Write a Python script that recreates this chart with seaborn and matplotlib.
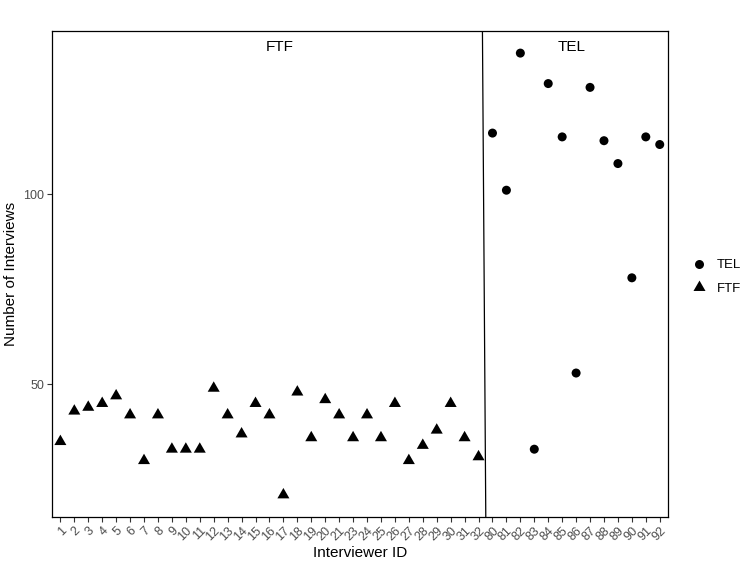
import matplotlib
matplotlib.use("Agg")
import matplotlib.pyplot as plt
import numpy as np
import pandas as pd
import seaborn as sns

# interviewer IDs and number of interviews, per mode
ftf_ids = [str(i) for i in range(1, 22)] + [str(i) for i in range(23, 33)]
ftf_counts = [35, 43, 44, 45, 47, 42, 30, 42, 33, 33, 33, 49, 42, 37, 45, 42, 21,
              48, 36, 46, 42, 36, 42, 36, 45, 30, 34, 38, 45, 36, 31]
tel_ids = [str(i) for i in range(80, 93)]
tel_counts = [116, 101, 137, 33, 129, 115, 53, 128, 114, 108, 78, 115, 113]

mode_order = ["TEL", "FTF"]
# equilateral triangle, centred on its centroid (like R's pch 17)
triangle = [(0, 1), (-0.866, -0.5), (0.866, -0.5)]

df = pd.DataFrame({
    "id": ftf_ids + tel_ids,
    "n": ftf_counts + tel_counts,
    "mode": ["FTF"] * len(ftf_ids) + ["TEL"] * len(tel_ids),
})

sns.set_theme(style="white")
plt.rcParams["font.family"] = ["Liberation Sans", "DejaVu Sans"]
plt.rcParams["text.color"] = "black"
plt.rcParams["axes.labelcolor"] = "black"

fig = plt.figure(figsize=(7.55, 5.67), dpi=100)
ax = fig.add_axes([0.0689, 0.0882, 0.816, 0.8571])

sns.scatterplot(data=df, x="id", y="n", hue="mode", style="mode", size="mode",
                hue_order=mode_order, style_order=mode_order, size_order=mode_order,
                palette={"TEL": "black", "FTF": "black"},
                markers={"TEL": "o", "FTF": triangle},
                sizes={"TEL": 42, "FTF": 100},
                linewidth=0, ax=ax)

# y range with ggplot-style 5% expansion
lo, hi = min(df["n"]), max(df["n"])
pad = (hi - lo) * 0.05
ax.set_ylim(lo - pad, hi + pad)
ax.set_xlim(-0.6, len(df) - 1 + 0.6)

# divider between the two modes
split_top, split_bottom = 30.28, 30.52
ax.plot([split_top, split_bottom], [hi + pad, lo - pad], color="black", lw=0.9, zorder=1)

ax.text(0.37, 0.968, "FTF", transform=ax.transAxes, ha="center", va="center", fontsize=11)
ax.text(0.844, 0.968, "TEL", transform=ax.transAxes, ha="center", va="center", fontsize=11)

ax.set_yticks([50, 100])
ax.set_xlabel("Interviewer ID", fontsize=11, labelpad=2)
ax.set_ylabel("Number of Interviews", fontsize=11, labelpad=4)
ax.tick_params(axis="both", colors="#4d4d4d", labelsize=9, length=3.5, width=0.8,
               direction="out", left=True, bottom=True, pad=2)
ax.tick_params(axis="both", color="#333333")
for lab in ax.get_xticklabels():
    lab.set_rotation(45)
    lab.set_ha("right")
    lab.set_rotation_mode("anchor")
for sp in ax.spines.values():
    sp.set_color("black")
    sp.set_linewidth(0.9)

sns.move_legend(ax, "center left", bbox_to_anchor=(1.01, 0.494), title=None,
                frameon=False, fontsize=9.5, handletextpad=0.3, labelspacing=0.85)
for t in ax.get_legend().get_texts():
    t.set_color("black")

fig.savefig("out.png", dpi=100)
